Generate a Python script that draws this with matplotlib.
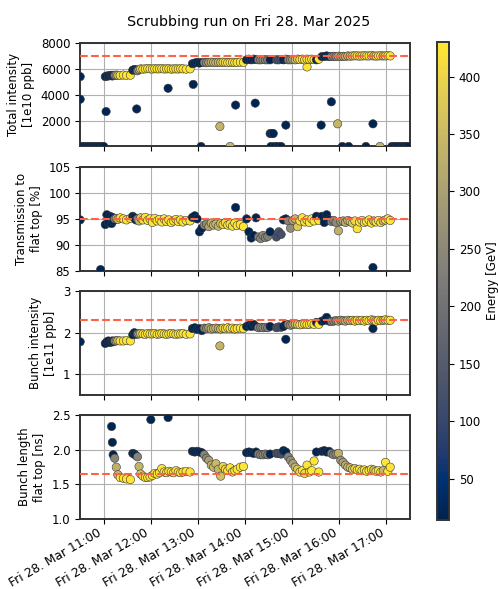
import numpy as np
import pandas as pd
import matplotlib
matplotlib.use('Agg')
import matplotlib.pyplot as plt
import matplotlib.dates as mdates
from matplotlib.colors import Normalize

nan = np.nan

# main cycles (clock time, max energy, total int, transmission, bunch int, bunch length)
cyc_time = ["11:02", "11:04", "11:06", "11:08", "11:10", "11:11", "11:12", "11:14", "11:16", "11:18", "11:21", "11:25", "11:29", "11:34",
            "11:37", "11:39", "11:41", "11:43", "11:45", "11:47", "11:50", "11:53", "11:56", "11:59", "12:02", "12:05", "12:08", "12:11",
            "12:14", "12:17", "12:20", "12:23", "12:26", "12:29", "12:32", "12:35", "12:38", "12:41", "12:45", "12:50",
            "12:53", "12:56", "12:59", "13:02", "13:05", "13:08", "13:11", "13:14", "13:17", "13:20", "13:23", "13:26", "13:29", "13:32",
            "13:35", "13:38", "13:41", "13:44", "13:47", "13:50", "13:54", "13:58",
            "14:02", "14:05", "14:08", "14:11", "14:14", "14:17", "14:20", "14:23", "14:26", "14:29", "14:32",
            "14:40", "14:43", "14:46", "14:49", "14:52", "14:55", "14:58", "15:01", "15:04", "15:07", "15:10", "15:13", "15:16", "15:19",
            "15:22", "15:25", "15:28", "15:31", "15:34",
            "15:38", "15:41", "15:44", "15:47", "15:50", "15:53", "15:56", "15:59", "16:02", "16:05", "16:08", "16:11", "16:14", "16:17",
            "16:20", "16:23", "16:26", "16:29", "16:32", "16:35", "16:38", "16:41", "16:44", "16:47", "16:50", "16:53", "16:56", "16:59",
            "17:02", "17:05"]
cyc_energy = [20, 20, 20, 20, 20, 20, 20, 240, 330, 350, 425, 425, 425, 425,
              20, 20, 20, 240, 340, 380, 425, 425, 425, 425, 425, 425, 425, 425,
              425, 425, 425, 425, 425, 425, 425, 425, 425, 425, 425, 425,
              20, 20, 20, 20, 20, 240, 250, 300, 330, 340, 350, 340, 360, 400,
              410, 425, 425, 420, 425, 425, 425, 425,
              20, 20, 20, 20, 20, 230, 240, 250, 240, 230, 20,
              120, 130, 120, 20, 20, 240, 260, 300, 340, 380, 425, 425, 410, 425,
              425, 430, 425, 20, 425,
              20, 20, 20, 20, 230, 240, 250, 330, 280, 300, 320, 340, 360, 380,
              400, 420, 425, 425, 410, 425, 425, 425, 350, 425, 425, 425, 340, 425,
              425, 425]
cyc_total = [5400, 5450, 5450, 5480, 5500, 5450, 5500, 5500, 5520, 5500, 5500, 5520, 5500, 5510,
             5900, 5950, 5920, 5850, 5950, 6000, 5980, 6000, 6020, 6000, 5990, 6010, 6000, 6000,
             6020, 5990, 6000, 6010, 5980, 6000, 6000, 5990, 6010, 6000, 5980, 6000,
             6400, 6450, 6500, 6450, 6500, 6500, 6480, 6500, 6520, 6500, 6490, 6510, 6500, 6520,
             6500, 6480, 6500, 6510, 6490, 6500, 6520, 6500,
             6700, 6750, 6700, 6750, 6720, 6700, 6700, 6720, 6700, 6700, 6700,
             6700, 6700, 6720, 6700, 6750, 6700, 6700, 6720, 6700, 6750, 6720, 6750, 6700, 6750,
             6730, 6750, 6720, 6700, 6750,
             6950, 6950, 7000, 6950, 6950, 6970, 6950, 6980, 6950, 6970, 6960, 7000, 6980, 7000,
             7010, 7000, 6990, 7000, 7010, 7000, 7000, 7020, 7000, 6990, 7000, 7010, 7000, 7000,
             7020, 7000]
cyc_trans = [93.9, 95.8, 94.3, 95.5, 94.1, 95.3, 94.6, 95.0, 95.1, 94.9, 95.2, 95.0, 94.8, 95.1,
             95.5, 95.2, 94.8, 95.0, 94.6, 95.2, 94.8, 95.3, 94.7, 95.0, 94.3, 95.1, 94.6, 94.9,
             94.4, 95.0, 94.5, 94.8, 94.3, 94.6, 94.9, 94.5, 94.8, 94.4, 94.7, 94.6,
             95.3, 95.6, 95.0, 92.5, 93.2, 93.8, 94.0, 93.5, 94.2, 93.8, 94.0, 93.6, 94.1, 93.9,
             94.3, 93.8, 94.0, 93.6, 94.2, 93.7, 93.9, 93.5,
             95.0, 92.5, 91.3, 91.8, 95.2, 91.5, 91.2, 91.8, 91.4, 91.6, 92.5,
             91.5, 92.5, 92.0, 94.8, 95.0, 94.6, 93.2, 94.7, 95.0, 93.5, 94.6, 95.2, 94.4, 94.8,
             94.3, 95.0, 94.6, 95.5, 94.7,
             95.5, 94.3, 95.8, 94.8, 94.5, 94.7, 94.3, 92.7, 94.5, 94.6, 94.3, 94.7, 94.5, 94.2,
             94.6, 93.1, 94.4, 94.7, 94.3, 94.5, 94.8, 94.2, 94.6, 94.4, 94.7, 94.3, 94.6, 94.8,
             95.0, 94.7]
cyc_bint = [1.74, 1.78, 1.80, 1.76, 1.79, 1.80, 1.78, 1.80, 1.80, 1.81, 1.80, 1.80, 1.81, 1.80,
            1.95, 2.00, 1.96, 1.97, 1.97, 1.98, 1.97, 1.96, 1.98, 1.97, 1.97, 1.98, 1.96, 1.97,
            1.98, 1.97, 1.96, 1.97, 1.98, 1.97, 1.96, 1.97, 1.97, 1.98, 1.96, 1.97,
            2.10, 2.12, 2.08, 2.10, 2.05, 2.11, 2.10, 2.12, 2.09, 2.10, 2.11, 2.10, 2.09, 2.11,
            2.10, 2.12, 2.10, 2.11, 2.09, 2.10, 2.11, 2.10,
            2.15, 2.18, 2.15, 2.20, 2.15, 2.12, 2.13, 2.12, 2.13, 2.12, 2.15,
            2.12, 2.14, 2.13, 2.15, 2.20, 2.20, 2.18, 2.20, 2.21, 2.20, 2.19, 2.20, 2.21, 2.20,
            2.20, 2.22, 2.20, 2.25, 2.20,
            2.28, 2.30, 2.37, 2.28, 2.27, 2.28, 2.29, 2.28, 2.30, 2.29, 2.28, 2.30, 2.29, 2.30,
            2.28, 2.30, 2.29, 2.30, 2.28, 2.30, 2.29, 2.31, 2.30, 2.28, 2.30, 2.29, 2.30, 2.31,
            2.30, 2.30]
cyc_blen = [nan, nan, nan, nan, 2.34, 2.11, 1.93, 1.88, 1.75, 1.64, 1.60, 1.59, 1.58, 1.57,
            1.95, 1.94, 1.92, 1.90, 1.76, 1.65, 1.62, 1.60, 1.60, 1.61, 1.63, 1.66, 1.65, 1.67,
            1.73, 1.68, 1.67, 1.69, 1.68, 1.67, 1.70, 1.68, 1.67, 1.68, 1.69, 1.68,
            1.98, 1.97, 1.98, 1.97, 1.96, 1.93, 1.88, 1.85, 1.78, 1.75, 1.80, 1.72, 1.62, 1.76,
            1.72, 1.70, 1.74, 1.68, 1.70, 1.72, 1.75, 1.76,
            1.96, 1.97, 1.96, 1.95, 1.97, 1.94, 1.93, 1.93, 1.94, 1.93, 1.94,
            1.95, 1.95, 1.94, 1.99, 1.97, 1.90, 1.85, 1.80, 1.75, 1.72, 1.68, 1.70, 1.66, 1.78,
            1.68, 1.70, 1.84, 1.97, 1.68,
            1.98, 1.99, 1.97, 1.98, 1.95, 1.93, 1.94, 1.95, 1.85, 1.82, 1.78, 1.75, 1.74, 1.72,
            1.73, 1.71, 1.72, 1.70, 1.71, 1.69, 1.70, 1.72, 1.71, 1.69, 1.70, 1.68, 1.70, 1.82,
            1.69, 1.75]

# extra cycles seen in single panels (dumps, outliers)
tot_x_time = ["10:30", "10:30", "11:03", "11:42", "12:22", "12:54", "13:28", "13:48", "14:13", "14:32", "14:34",
              "14:36", "14:52", "15:19", "15:37", "15:50", "15:58", "16:43",
              "10:30", "10:33", "10:36", "10:39", "10:42", "10:45", "10:48", "10:51", "10:54", "10:57", "11:00",
              "13:04", "13:41", "14:33", "14:38", "14:42", "14:46", "16:04", "16:12", "16:34", "16:52",
              "17:07", "17:10", "17:13", "17:16", "17:19", "17:22", "17:25", "17:28"]
tot_x_val = [5400, 3650, 2700, 2900, 4500, 4800, 1550, 3200, 3350, 1000, 1000,
             1000, 1650, 6150, 1650, 3450, 1750, 1750,
             0, 0, 0, 0, 0, 0, 0, 0, 0, 0, 0,
             0, 0, 0, 0, 0, 0, 0, 0, 0, 0,
             0, 0, 0, 0, 0, 0, 0, 0]
tot_x_energy = [20, 20, 20, 20, 20, 20, 340, 20, 20, 20, 20,
                20, 20, 425, 20, 20, 340, 20,
                20, 20, 20, 20, 20, 20, 20, 20, 20, 20, 20,
                20, 340, 20, 20, 20, 20, 20, 20, 20, 340,
                20, 20, 20, 20, 20, 20, 20, 20]

trans_x_time = ["10:30", "10:56", "13:48", "16:43"]
trans_x_val = [94.8, 85.2, 97.2, 85.6]
trans_x_energy = [20, 20, 20, 20]

bint_x_time = ["10:30", "13:28", "14:52", "16:43"]
bint_x_val = [1.78, 1.68, 1.84, 2.10]
bint_x_energy = [20, 340, 20, 20]

blen_x_time = ["12:00", "12:22"]
blen_x_val = [2.44, 2.47]
blen_x_energy = [20, 20]

targets = [7000, 95, 2.3, 1.65]
ylabels = ['Total intensity\n[1e10 ppb]', 'Transmission to\nflat top [%]',
           'Bunch intensity\n[1e11 ppb]', 'Bunch length\nflat top [ns]']
ylims = [(0, 8000), (85, 105), (0.5, 3), (1.0, 2.5)]
yticks = [[2000, 4000, 6000, 8000], [85, 90, 95, 100, 105], [1, 2, 3], [1.0, 1.5, 2.0, 2.5]]


def to_dt(times):
    return pd.to_datetime(['2025-03-28 ' + t for t in times])


norm = Normalize(vmin=14, vmax=430)
cmap = 'cividis'

fig, axes = plt.subplots(4, 1, figsize=(4.98, 5.89), dpi=100, sharex=True)
fig.subplots_adjust(left=0.161, right=0.823, top=0.927, bottom=0.119, hspace=0.2)

main_vals = [cyc_total, cyc_trans, cyc_bint, cyc_blen]
extras = [(tot_x_time, tot_x_val, tot_x_energy), (trans_x_time, trans_x_val, trans_x_energy),
          (bint_x_time, bint_x_val, bint_x_energy), (blen_x_time, blen_x_val, blen_x_energy)]

for i, ax in enumerate(axes):
    ax.grid(True, color='#b0b0b0', linewidth=0.8)
    ax.set_axisbelow(True)
    et, ev, ee = extras[i]
    ax.scatter(to_dt(et), ev, c=ee, cmap=cmap, norm=norm, s=36,
               edgecolors='#3a3a3a', linewidths=0.4, zorder=3)
    sc = ax.scatter(to_dt(cyc_time), main_vals[i], c=cyc_energy, cmap=cmap, norm=norm, s=36,
                    edgecolors='#3a3a3a', linewidths=0.4, zorder=3)
    ax.axhline(targets[i], color='tomato', linestyle='--', linewidth=1.5, zorder=4)
    ax.set_ylim(*ylims[i])
    ax.set_yticks(yticks[i])
    ax.set_ylabel(ylabels[i], fontsize=8.5)
    ax.tick_params(axis='y', labelsize=8.5)
    for sp in ax.spines.values():
        sp.set_linewidth(1.4)
        sp.set_color('#333333')

axes[-1].set_xlim(pd.Timestamp('2025-03-28 10:30'), pd.Timestamp('2025-03-28 17:30'))
axes[-1].xaxis.set_major_locator(mdates.HourLocator(byhour=range(11, 18)))
axes[-1].xaxis.set_major_formatter(mdates.DateFormatter('%a %d. %b %H:%M'))
axes[-1].tick_params(axis='x', labelsize=8.8, pad=1.5)
for lab in axes[-1].get_xticklabels():
    lab.set_rotation(30)
    lab.set_ha('right')

cax = fig.add_axes([0.8775, 0.117, 0.024, 0.8115])
cb = fig.colorbar(sc, cax=cax)
cb.set_label('Energy [GeV]', fontsize=8.5)
cb.ax.tick_params(labelsize=8.5)
cb.outline.set_linewidth(1.4)
cb.outline.set_edgecolor('#333333')

fig.suptitle('Scrubbing run on Fri 28. Mar 2025', fontsize=10.3, y=0.975)

fig.savefig('out.png', dpi=100)
